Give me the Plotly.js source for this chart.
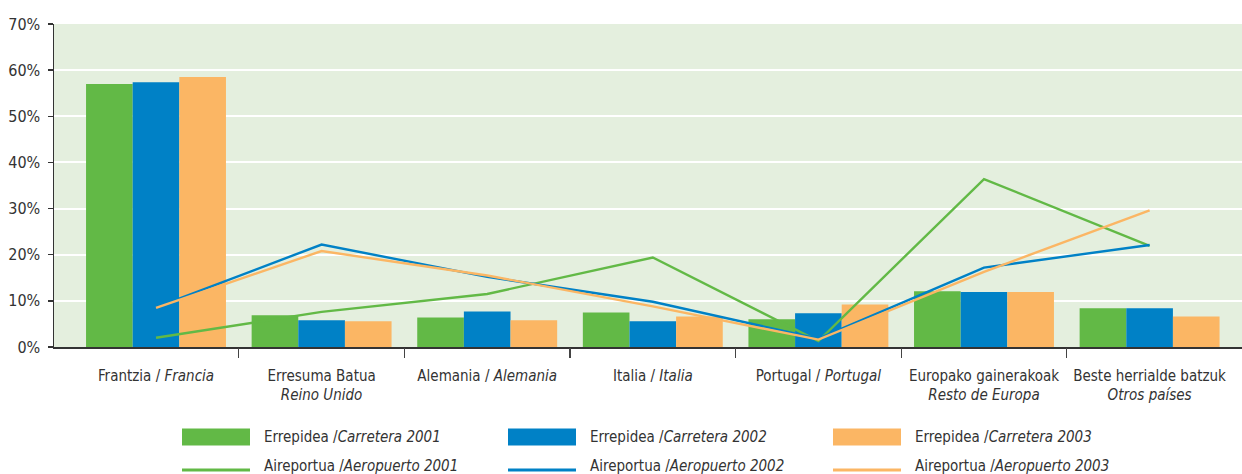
<!DOCTYPE html>
<html>
<head>
<meta charset="utf-8">
<script src="https://cdn.plot.ly/plotly-3.0.1.min.js"></script>
<style>
  html, body { margin: 0; padding: 0; background: #ffffff; }
  #chart { width: 1242px; height: 474px; }
</style>
</head>
<body>
<div id="chart"></div>
<script>
// ---- Data ----
const categories = ['Francia', 'Reino Unido', 'Alemania', 'Italia', 'Portugal', 'Resto de Europa', 'Otros países'];
const tickLabels = [
  'Frantzia / <i>Francia</i>',
  'Erresuma Batua<br><i>Reino Unido</i>',
  'Alemania / <i>Alemania</i>',
  'Italia / <i>Italia</i>',
  'Portugal / <i>Portugal</i>',
  'Europako gainerakoak<br><i>Resto de Europa</i>',
  'Beste herrialde batzuk<br><i>Otros países</i>'
];
const carretera2001 = [57.0, 6.9, 6.4, 7.5, 6.0, 12.1, 8.4];
const carretera2002 = [57.4, 5.8, 7.7, 5.6, 7.3, 11.9, 8.4];
const carretera2003 = [58.5, 5.6, 5.8, 6.6, 9.2, 11.9, 6.6];
const aeropuerto2001 = [2.0, 7.6, 11.5, 19.4, 1.3, 36.4, 21.9];
const aeropuerto2002 = [8.6, 22.2, 15.2, 9.8, 1.8, 17.2, 22.1];
const aeropuerto2003 = [8.5, 20.8, 15.5, 8.8, 1.6, 16.3, 29.6];
const seriesNames = [
  'Errepidea /<i>Carretera 2001</i>',
  'Errepidea /<i>Carretera 2002</i>',
  'Errepidea /<i>Carretera 2003</i>',
  'Aireportua /<i>Aeropuerto 2001</i>',
  'Aireportua /<i>Aeropuerto 2002</i>',
  'Aireportua /<i>Aeropuerto 2003</i>'
];
const yTicks = [0, 10, 20, 30, 40, 50, 60, 70];
const yTickLabels = ['0%', '10%', '20%', '30%', '40%', '50%', '60%', '70%'];

// ---- Style ----
const colors = ['#62B946', '#0081C6', '#FBB664'];
const FONT = '"Liberation Sans Narrow", "DejaVu Sans Condensed", "Roboto Condensed", "Arial Narrow", sans-serif';
const TXT = '#333333';

const W = 1242, H = 474;
const M = { l: 54, r: 0, t: 24, b: 127 };
const plotW = W - M.l - M.r, plotH = H - M.t - M.b;
const px2x = px => (px - M.l) / plotW;
const px2y = py => (H - M.b - py) / plotH;

const barData = [carretera2001, carretera2002, carretera2003];
const lineData = [aeropuerto2001, aeropuerto2002, aeropuerto2003];

const n = categories.length;
const xRange = [-0.616, n - 1 + 0.558];
const sepVals = [];
for (let i = 0; i < n - 1; i++) sepVals.push(i + 0.5);

const traces = [];
barData.forEach((d, i) => traces.push({
  type: 'bar', x: categories, y: d, name: seriesNames[i],
  marker: { color: colors[i], line: { width: 0 } }, showlegend: false,
  hoverinfo: 'y'
}));
lineData.forEach((d, i) => traces.push({
  type: 'scatter', mode: 'lines', x: categories, y: d, name: seriesNames[i + 3],
  line: { color: colors[i], width: 2.4 }, showlegend: false, hoverinfo: 'y'
}));
// invisible helper trace so that the separator-tick axis is drawn
traces.push({
  type: 'scatter', mode: 'none', x: sepVals, y: sepVals.map(() => 0),
  xaxis: 'x2', yaxis: 'y', showlegend: false, hoverinfo: 'skip'
});

// ---- Custom legend (2 rows x 3 columns) ----
const colSwatchX = [182, 508, 833];
const swW = 68;
const rowY = [437, 469];
const shapes = [];
const annotations = [];
for (let r = 0; r < 2; r++) {
  for (let c = 0; c < 3; c++) {
    const x0 = colSwatchX[c], x1 = x0 + swW;
    if (r === 0) {
      shapes.push({ type: 'rect', xref: 'paper', yref: 'paper',
        x0: px2x(x0), x1: px2x(x1), y0: px2y(rowY[0] - 8.5), y1: px2y(rowY[0] + 8.5),
        fillcolor: colors[c], line: { width: 0 } });
    } else {
      shapes.push({ type: 'line', xref: 'paper', yref: 'paper',
        x0: px2x(x0), x1: px2x(x1), y0: px2y(rowY[1] + 1), y1: px2y(rowY[1] + 1),
        line: { color: colors[c], width: 3 } });
    }
    annotations.push({ xref: 'paper', yref: 'paper', x: px2x(x1 + 12), y: px2y(rowY[r] - (r ? 3 : 0)),
      xanchor: 'left', yanchor: 'middle', showarrow: false,
      text: seriesNames[r * 3 + c], font: { family: FONT, size: 15, color: TXT } });
  }
}

const layout = {
  width: W, height: H,
  margin: M,
  paper_bgcolor: '#ffffff',
  plot_bgcolor: '#E4EFDE',
  font: { family: FONT, size: 15, color: TXT },
  barmode: 'group',
  bargap: 0.155,
  bargroupgap: 0,
  showlegend: false,
  xaxis: {
    type: 'category', range: xRange,
    tickvals: categories, ticktext: tickLabels,
    ticks: '', showgrid: false, zeroline: false,
    showline: true, linecolor: '#333333', linewidth: 1.5,
    ticklabelstandoff: 14,
    tickfont: { family: FONT, size: 15, color: TXT },
    fixedrange: true
  },
  xaxis2: {
    overlaying: 'x', anchor: 'y', side: 'bottom', type: 'linear',
    range: xRange, tickmode: 'array', tickvals: sepVals, ticks: 'outside', ticklen: 10,
    tickcolor: '#444444', tickwidth: 1.3, showticklabels: false,
    showgrid: false, zeroline: false, showline: false, fixedrange: true
  },
  yaxis: {
    range: [0, 70], tickmode: 'array', tickvals: yTicks, ticktext: yTickLabels,
    ticks: 'outside', ticklen: 5, tickcolor: '#333333', tickwidth: 1.3,
    showline: true, linecolor: '#333333', linewidth: 1.5,
    gridcolor: '#ffffff', gridwidth: 2, zeroline: false,
    ticklabelstandoff: 4,
    tickfont: { family: FONT, size: 16, color: TXT },
    fixedrange: true
  },
  shapes: shapes,
  annotations: annotations
};

Plotly.newPlot('chart', traces, layout, { displayModeBar: false, staticPlot: true });
</script>
</body>
</html>
